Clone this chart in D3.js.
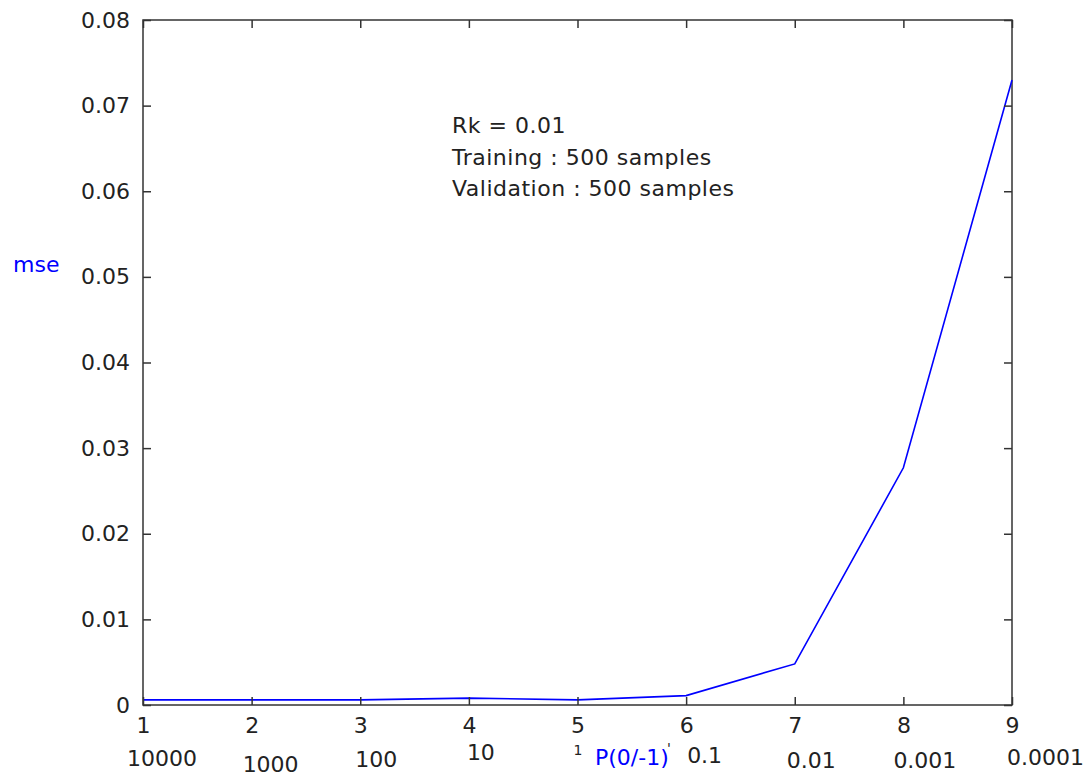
<!DOCTYPE html>
<html>
<head>
<meta charset="utf-8">
<script src="https://cdn.jsdelivr.net/npm/d3@7"></script>
<style>
  body { margin: 0; background: #fff; }
  svg { display: block; font-family: "DejaVu Sans", sans-serif; }
</style>
</head>
<body>
<svg id="chart" width="1086" height="776"></svg>
<script>
// data
const xs = [1, 2, 3, 4, 5, 6, 7, 8, 9];
const mse = [0.0006, 0.0006, 0.0006, 0.0008, 0.0006, 0.0011, 0.0048, 0.0277, 0.0730];
const yTicks = [0, 0.01, 0.02, 0.03, 0.04, 0.05, 0.06, 0.07, 0.08];
const pLabels = ["10000", "1000", "100", "10", "1", "0.1", "0.01", "0.001", "0.0001"];
const notes = ["Rk = 0.01", "Training : 500 samples", "Validation : 500 samples"];

// the second row of labels is hand placed (x offset from its tick, baseline y)
const pOffsets = [[-16, 766], [-9, 772], [-5, 767], [-2, 760], [-4, 755], [1, 763], [-8, 768], [-10, 768], [-5, 765]];

const svg = d3.select("#chart");
const margin = { top: 20, right: 74, bottom: 71, left: 143 };
const width = 1086, height = 776;
const textColor = "#222";
const fontSize = 22;

const x = d3.scaleLinear()
  .domain([1, 9])
  .range([margin.left, width - margin.right]);

const y = d3.scaleLinear()
  .domain([0, 0.08])
  .range([height - margin.bottom, margin.top]);

// box
svg.append("rect")
  .attr("x", x(1))
  .attr("y", y(0.08))
  .attr("width", x(9) - x(1))
  .attr("height", y(0) - y(0.08))
  .attr("fill", "none")
  .attr("stroke", "#333")
  .attr("stroke-width", 1.5);

// line
const line = d3.line()
  .x((d, i) => x(xs[i]))
  .y(d => y(d));

svg.append("path")
  .datum(mse)
  .attr("fill", "none")
  .attr("stroke", "#0000ff")
  .attr("stroke-width", 1.6)
  .attr("d", line);

// ticks inside on every side
const tickLen = 8;
const axisStyle = g => {
  g.select(".domain").remove();
  g.attr("font-family", null);
  g.selectAll(".tick line").attr("stroke", "#333").attr("stroke-width", 1.5);
  g.selectAll(".tick text").attr("fill", textColor).attr("font-size", fontSize);
};

svg.append("g")
  .attr("transform", `translate(0, ${y(0)})`)
  .call(d3.axisTop(x).tickValues(xs).tickSize(tickLen).tickFormat(""))
  .call(axisStyle);

svg.append("g")
  .attr("transform", `translate(0, ${y(0)})`)
  .call(d3.axisBottom(x).tickValues(xs).tickSize(0).tickPadding(12).tickFormat(d3.format("d")))
  .call(axisStyle);

svg.append("g")
  .attr("transform", `translate(0, ${y(0.08)})`)
  .call(d3.axisBottom(x).tickValues(xs).tickSize(tickLen).tickFormat(""))
  .call(axisStyle);

svg.append("g")
  .attr("transform", `translate(${x(1)}, 0)`)
  .call(d3.axisRight(y).tickValues(yTicks).tickSize(tickLen).tickFormat(""))
  .call(axisStyle);

svg.append("g")
  .attr("transform", `translate(${x(1)}, 0)`)
  .call(d3.axisLeft(y).tickValues(yTicks).tickSize(0).tickPadding(13).tickFormat(d => d === 0 ? "0" : d3.format(".2f")(d)))
  .call(axisStyle);

svg.append("g")
  .attr("transform", `translate(${x(9)}, 0)`)
  .call(d3.axisLeft(y).tickValues(yTicks).tickSize(tickLen).tickFormat(""))
  .call(axisStyle);

// second row of x labels
svg.append("g")
  .selectAll("text")
  .data(pLabels)
  .join("text")
  .attr("x", (d, i) => x(xs[i]) + pOffsets[i][0])
  .attr("y", (d, i) => pOffsets[i][1])
  .attr("fill", textColor)
  .attr("font-size", (d, i) => d === "1" ? 14 : fontSize)
  .text(d => d);

// axis titles
svg.append("text")
  .attr("x", 595)
  .attr("y", 765)
  .attr("fill", "#0000ff")
  .attr("font-size", fontSize)
  .text("P(0/-1)");

svg.append("text")
  .attr("x", 667)
  .attr("y", 753)
  .attr("fill", textColor)
  .attr("font-size", 14)
  .text("'");

svg.append("text")
  .attr("x", 13)
  .attr("y", 272)
  .attr("fill", "#0000ff")
  .attr("font-size", fontSize)
  .text("mse");

// notes
svg.append("g")
  .selectAll("text")
  .data(notes)
  .join("text")
  .attr("x", 452)
  .attr("y", (d, i) => 133 + i * 31.5)
  .attr("fill", textColor)
  .attr("font-size", fontSize)
  .attr("letter-spacing", 0.5)
  .text(d => d);
</script>
</body>
</html>
